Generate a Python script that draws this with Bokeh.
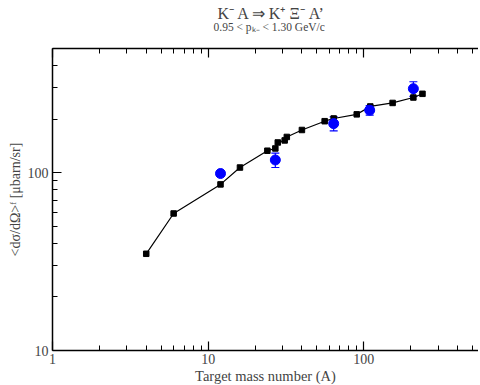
from bokeh.plotting import figure
from bokeh.models import (Range1d, FixedTicker, PrintfTickFormatter, LogAxis,
                          Title, Whisker, ColumnDataSource, TeeHead)
from bokeh.embed import file_html
from bokeh.resources import INLINE

# calculation (black squares + line)
calc_A = [4, 6, 12, 16, 24, 27, 28, 31, 32, 40, 56, 64, 90, 110, 153, 208, 238]
calc_xs = [35, 59, 86, 107, 133, 137, 148, 152, 159, 174, 195, 202, 213, 236, 247, 265, 278]

# experiment (blue circles with error bars)
exp_A = [12, 27, 64, 109, 208]
exp_xs = [99, 118, 189, 225, 297]
exp_err = [3, 11, 17, 14, 28]

x_major = [1, 10, 100]
x_minor = [2, 3, 4, 5, 6, 7, 8, 9, 20, 30, 40, 50, 60, 70, 80, 90, 200, 300, 400, 500]
y_major = [10, 100]
y_minor = [20, 30, 40, 50, 60, 70, 80, 90, 200, 300, 400, 500]

title_main = "K⁻ A ⇒ K⁺ Ξ⁻ A’"
title_sub = "0.95 <  pₖ₋ < 1.30 GeV/c"

FONT = "Liberation Serif"

p = figure(frame_width=426, frame_height=302, x_axis_type="log", y_axis_type="log",
           x_range=Range1d(1, 545), y_range=Range1d(10, 500),
           output_backend="svg", toolbar_location=None,
           min_border_left=52, min_border_right=0, min_border_top=48,
           min_border_bottom=35)
p.grid.visible = False
p.outline_line_color = None
p.background_fill_color = "white"

exp_src = ColumnDataSource(dict(A=exp_A, xs=exp_xs,
                                lo=[v - e for v, e in zip(exp_xs, exp_err)],
                                hi=[v + e for v, e in zip(exp_xs, exp_err)]))
calc_src = ColumnDataSource(dict(A=calc_A, xs=calc_xs))

p.line("A", "xs", source=calc_src, line_color="black", line_width=1.2)
p.scatter("A", "xs", source=calc_src, marker="square", size=5.5,
          fill_color="black", line_color="black")

w = Whisker(base="A", lower="lo", upper="hi", source=exp_src,
            line_color="#0000ff", line_width=1.2,
            upper_head=TeeHead(size=8, line_color="#0000ff", line_width=1.2),
            lower_head=TeeHead(size=8, line_color="#0000ff", line_width=1.2))
p.add_layout(w)
p.scatter("A", "xs", source=exp_src, marker="circle", size=10,
          fill_color="#0000ff", line_color="#0000ff")

for ax, maj, mnr in ((p.xaxis[0], x_major, x_minor), (p.yaxis[0], y_major, y_minor)):
    ax.ticker = FixedTicker(ticks=maj, minor_ticks=mnr)
    ax.formatter = PrintfTickFormatter(format="%d")
    ax.major_tick_in = 9
    ax.major_tick_out = 0
    ax.minor_tick_in = 5
    ax.minor_tick_out = 0
    ax.axis_line_width = 1.5
    ax.major_tick_line_width = 1.2
    ax.major_label_text_font = FONT
    ax.major_label_text_font_size = "14px"
    ax.axis_label_text_font = FONT
    ax.axis_label_text_font_size = "14px"
    ax.axis_label_text_font_style = "normal"
    ax.major_label_standoff = 4

p.xaxis.axis_label = "Target mass number (A)"
p.xaxis.axis_label_text_font_size = "14.5px"
p.xaxis.axis_label_standoff = 1
p.xaxis.major_label_standoff = 3
p.yaxis.axis_label = "<dσ/dΩ>ᶠ [μbarn/sr]"
p.yaxis.axis_label_standoff = 2

top = LogAxis(ticker=FixedTicker(ticks=x_major, minor_ticks=x_minor),
              formatter=PrintfTickFormatter(format="%d"),
              major_tick_in=9, major_tick_out=0, minor_tick_in=5, minor_tick_out=0,
              major_label_text_font_size="1px", major_label_text_color=None,
              major_label_standoff=0, axis_line_width=1.5,
              major_tick_line_width=1.2,
              axis_label=" ", axis_label_text_font_size="8px",
              axis_label_standoff=0)
p.add_layout(top, "above")

p.add_layout(Title(text=title_sub, align="left", offset=161,
                   text_font=FONT, text_font_size="11.5px",
                   text_font_style="normal", standoff=8), "above")
p.add_layout(Title(text=title_main, align="left", offset=165,
                   text_font=FONT, text_font_size="16px",
                   text_font_style="normal", standoff=-15), "above")

open("out.html", "w").write(file_html(p, INLINE))
